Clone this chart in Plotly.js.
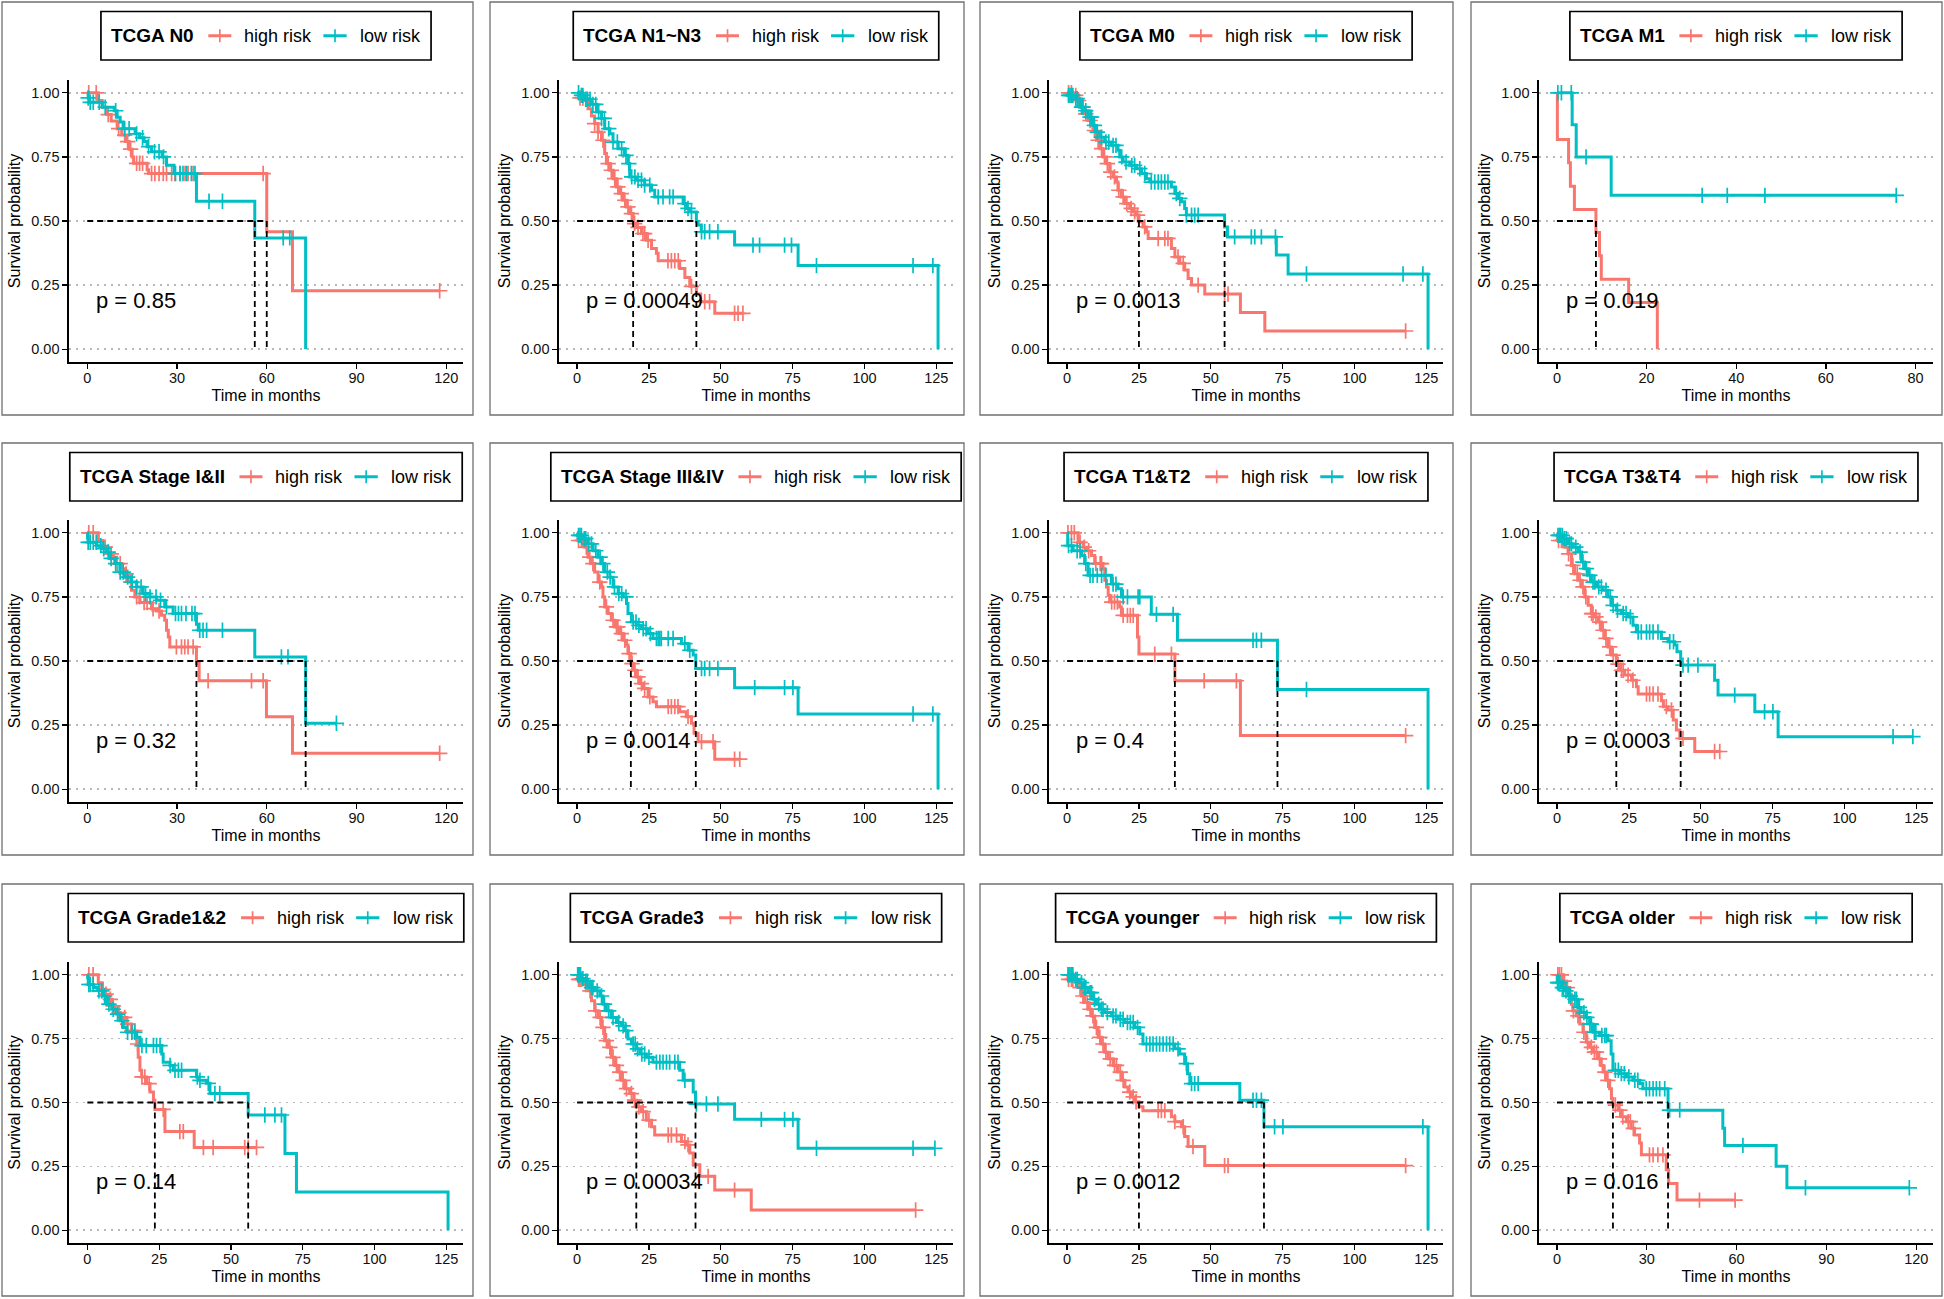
<!DOCTYPE html>
<html><head><meta charset="utf-8">
<script src="https://cdn.plot.ly/plotly-3.0.1.min.js"></script>
<style>html,body{margin:0;padding:0;background:#fff;}#chart{width:1944px;height:1299px;}</style>
</head><body><div id="chart"></div>
<script>
// ---------------- data ----------------
const titles = ["TCGA N0","TCGA N1~N3","TCGA M0","TCGA M1","TCGA Stage I&II","TCGA Stage III&IV","TCGA T1&T2","TCGA T3&T4","TCGA Grade1&2","TCGA Grade3","TCGA younger","TCGA older"];
const pvalues = ["p = 0.85","p = 0.00049","p = 0.0013","p = 0.019","p = 0.32","p = 0.0014","p = 0.4","p = 0.0003","p = 0.14","p = 0.00034","p = 0.0012","p = 0.016"];
const groupNames = ["high risk","low risk"];
const ticks120 = [0,30,60,90,120];
const ticks125 = [0,25,50,75,100,125];
const ticks80 = [0,20,40,60,80];
const yTicks = [0,0.25,0.5,0.75,1];

// N0
const n0_hi_t = [0,3.7,5,6.5,8,10,11.5,13,14,15,15.5,20,20.5,60,68.6];
const n0_hi_s = [1,0.97,0.944,0.915,0.89,0.86,0.835,0.81,0.78,0.75,0.725,0.70,0.685,0.458,0.228];
const n0_hi_c = [0.5,3,7,10.5,12.5,13.5,14.5,16.5,17.5,18.5,21.5,22.6,24,25.4,26.5,28.2,29.3,31,32.7,33.7,35.4,58.8,117.8];
const n0_lo_t = [0,0.3,0.8,5,9,10,11,12,16,17.5,19,20,21.5,25,26.5,29,36.5,56,73];
const n0_lo_s = [1,0.98,0.963,0.944,0.93,0.905,0.886,0.86,0.84,0.825,0.81,0.79,0.77,0.75,0.717,0.685,0.577,0.434,0];
const n0_lo_c = [0.3,1,2,4,6,9.5,12.5,14,16.5,18.5,20.5,22.5,24,25.5,29.5,31,32,33.2,34.8,36,40.7,45.2,65.5,67.7];
// N1~N3
const n1_hi_t = [0,0.5,2.7,3.8,5,6.1,7.3,8.5,9.6,10.2,11.4,12.5,13.7,14.8,16,17.2,18.3,19.5,20.6,22.4,24.1,25.9,27.6,28.2,35.7,37.5,39.2,41.5,43,47.9];
const n1_hi_s = [1,0.98,0.97,0.938,0.91,0.88,0.847,0.815,0.763,0.724,0.698,0.665,0.633,0.607,0.581,0.555,0.529,0.49,0.475,0.451,0.425,0.393,0.374,0.345,0.315,0.28,0.245,0.215,0.185,0.14];
const n1_hi_c = [1,2,6.1,7.3,9,10.8,11.9,13.1,14.2,15.4,16.6,17.7,18.9,20,21.2,22.9,23.5,24.7,31.6,32.8,34,35.2,39.8,44.4,46.1,54.8,56,57.7];
const n1_lo_t = [0,1,2.5,4.9,6.8,8.5,9.6,11.4,12.5,14.3,16.5,17.7,18.3,20.6,23.5,25.9,27,36.9,38.1,39.2,41.5,42.1,43.2,54.8,76.9,125.6];
const n1_lo_s = [1,0.99,0.975,0.955,0.925,0.9,0.86,0.84,0.808,0.782,0.756,0.724,0.672,0.659,0.64,0.62,0.594,0.568,0.549,0.535,0.498,0.484,0.458,0.406,0.326,0];
const n1_lo_c = [0.5,1.5,2,3,3.5,4.5,5.5,6.5,7.5,8.5,9.5,11,12.5,14,15.5,17,18,19,20.1,21.2,22.4,23.5,25.3,28.2,29.9,32.2,33.4,37.5,38.6,39.8,43.3,44.4,46.1,49,61.2,63.5,72.2,74.6,83.3,116.9,123.8];
// M0
const m0_hi_t = [0,2.1,3.8,5,6.1,7.3,9,10.2,11.4,12.5,13.7,14.8,16,17.2,17.7,18.9,20.1,21.8,23,24.1,25,26.4,27.6,28.2,36.3,37.5,39.2,40.9,42.1,43.3,47.9,60.3,68.8];
const m0_hi_s = [1,0.99,0.97,0.944,0.918,0.892,0.853,0.815,0.782,0.75,0.724,0.691,0.672,0.652,0.62,0.594,0.568,0.549,0.536,0.523,0.497,0.477,0.458,0.432,0.393,0.36,0.335,0.309,0.276,0.25,0.215,0.143,0.071];
const m0_hi_c = [0.5,1.5,3,4,5.5,6.5,8,9.5,10.8,12,13,14,15.2,16.5,18,19.5,20.8,22.3,23.5,24.5,27,31.7,34,35.1,38.6,40.4,45.6,54.8,56,117.8];
const m0_lo_t = [0,0.3,2.7,4.4,6.1,7.3,9,10.2,11.4,13.1,15.4,17.7,18.3,19.5,21.8,24.1,25.9,27.6,28.8,36.3,37.5,38.6,39.8,40.9,41.5,54.8,55.8,72.8,76.9,125.6];
const m0_lo_s = [1,0.99,0.977,0.944,0.93,0.905,0.873,0.847,0.827,0.808,0.795,0.776,0.75,0.73,0.717,0.704,0.685,0.665,0.652,0.633,0.607,0.588,0.575,0.549,0.523,0.477,0.438,0.367,0.293,0];
const m0_lo_c = [0.5,1,1.5,2,3,3.5,5,5.5,6.5,8,8.5,9.5,10.5,12,13.5,14.5,16,17,19,20.5,22.5,23.5,25.3,27,29.3,30.5,31.7,32.8,34,35.1,38,39.2,41.5,43.3,44.4,45.6,58.3,64.1,65.3,67.6,72.5,83.3,116.9,123.8];
// M1
const m1_hi_t = [0,0.1,2.6,3,3.9,8.7,9.5,9.9,16,22.4];
const m1_hi_s = [1,0.818,0.727,0.636,0.545,0.455,0.364,0.273,0.182,0];
const m1_hi_c = [];
const m1_lo_t = [0,3.4,4.3,12.1];
const m1_lo_s = [1,0.875,0.75,0.6];
const m1_lo_c = [0.2,1,3.2,6.5,32.4,38,46.4,75.7];
// Stage I&II
const s12_hi_t = [0,3.7,5.3,7,8.7,9.8,11.5,12.6,13.7,14.8,15.9,17.6,21.5,23.2,24.8,25.9,26.5,27.1,27.6,36.5,37.4,59.9,68.6];
const s12_hi_s = [1,0.97,0.944,0.918,0.905,0.88,0.86,0.84,0.808,0.776,0.75,0.728,0.704,0.695,0.678,0.659,0.62,0.594,0.555,0.49,0.423,0.283,0.14];
const s12_hi_c = [0.5,2,6,8,10,11,13,14.5,16.5,17.5,19,20,22,24,29.8,31.5,32.6,33.7,35.4,40.4,54.9,58.8,117.8];
const s12_lo_t = [0,0.1,0.3,3.1,4.8,6.5,7.6,9.2,10.9,12.6,14.8,16.5,18.7,20.9,23.2,25.9,28.7,36.5,37.1,56,73];
const s12_lo_s = [1,0.98,0.963,0.95,0.938,0.925,0.9,0.88,0.847,0.827,0.808,0.789,0.763,0.75,0.737,0.711,0.685,0.643,0.62,0.516,0.257];
const s12_lo_c = [0.3,1,2,3,4.5,5.5,7,8,9.5,11,12,13.5,15,16.5,18,19.5,21,23,24.5,26.5,29.5,30.5,31.5,33,35,36,37.6,38.7,39.9,45.2,64.9,67.1,83.3];
// Stage III&IV
const s34_hi_t = [0,0.3,2.7,3.8,5,6.1,7.3,8.5,9,9.6,10.8,11.9,13.1,14.8,16,17.2,17.7,18.7,19.5,20.6,21.8,23,24.7,26.4,27.6,35.7,38,39.8,40.7,42.1,47.9];
const s34_hi_s = [1,0.97,0.944,0.905,0.88,0.847,0.808,0.789,0.75,0.711,0.685,0.659,0.633,0.607,0.581,0.562,0.529,0.49,0.464,0.438,0.412,0.393,0.36,0.341,0.322,0.302,0.283,0.257,0.218,0.185,0.117];
const s34_hi_c = [0.5,1.5,2,3.2,4.4,5.5,7.9,10.2,12.5,13.7,14.2,15.4,16.6,18.1,19.1,20.1,21.2,22.4,23.5,25.3,31.7,32.8,34,35.1,38.6,43.3,47.3,54.8,56.6];
const s34_lo_t = [0,0.2,2.1,3.8,5.6,7.3,8.5,9.6,11.4,12.5,14.3,16,17.2,17.7,18.9,20.6,22.4,24.7,26.4,36.3,38.6,40.4,41.3,54.8,76.9,125.6];
const s34_lo_s = [1,0.99,0.977,0.957,0.93,0.905,0.88,0.847,0.827,0.789,0.763,0.75,0.724,0.685,0.652,0.639,0.626,0.607,0.588,0.568,0.542,0.523,0.471,0.396,0.293,0];
const s34_lo_c = [0.5,1,1.5,2.5,3,4,5,6.5,8,9,10.5,11.5,13,14.5,15.5,17,19.5,20.5,21.5,23,24,25.5,27.6,28.2,28.8,29.3,31.7,33.4,37.5,39.2,43.3,44.4,46.1,49,61.8,72.2,75.1,116.9,123.8];
// T1&T2
const t12_hi_t = [0,3.8,5.6,6.7,8.5,9.6,12.5,13.1,13.7,14.3,14.8,18.3,18.9,24.5,25,37.5,60.3];
const t12_hi_s = [1,0.963,0.944,0.93,0.912,0.88,0.86,0.815,0.789,0.756,0.73,0.711,0.678,0.594,0.527,0.423,0.209];
const t12_hi_c = [0.3,1.5,2.5,4.5,6,7.5,10,11.5,12,15.5,16.5,17.5,19.5,21,22,23,30.5,36.3,47.7,58.9,117.8];
const t12_lo_t = [0,0.2,2.1,5,6.1,7.3,15.4,17.7,18.9,29.3,38.4,73.2,125.6];
const t12_lo_s = [1,0.95,0.93,0.912,0.88,0.834,0.8,0.782,0.75,0.682,0.581,0.389,0];
const t12_lo_c = [0.5,1.5,3.5,4.5,6.5,8,9,10.5,12,13.5,16,17,19.5,21,24.7,25.3,31.1,36.9,64.7,65.9,67.6,83.3];
// T3&T4
const t34_hi_t = [0,0.2,2.7,3.8,5,6.1,7.3,8.5,9.6,10.8,11.9,13.1,14.3,15.4,16.6,17.7,18.9,20.6,21.8,23.5,25.9,27.6,28.2,36.3,37,38.6,40.4,41.5,42.7,47.9];
const t34_hi_s = [1,0.97,0.944,0.918,0.873,0.84,0.815,0.789,0.75,0.717,0.685,0.672,0.652,0.62,0.588,0.555,0.523,0.488,0.464,0.445,0.425,0.4,0.371,0.345,0.322,0.309,0.27,0.231,0.198,0.147];
const t34_hi_c = [0.5,1.5,2,4,5.5,7,8,9,10,12,12.5,13.5,14.8,16,17,18.3,19.5,21.2,22.4,23,24.7,26.4,31.1,32.2,33.4,35.1,38,39.8,43.8,54.8,56.6];
const t34_lo_t = [0,0.2,2.1,3.8,5.6,7.3,8.5,9.6,10.8,11.9,13.7,16,17.7,18.9,20.6,22.4,24.7,26.4,27.6,36.3,38.6,40.9,41.7,43,54.8,56,68.8,76.9];
const t34_lo_s = [1,0.99,0.977,0.957,0.944,0.925,0.886,0.86,0.834,0.808,0.789,0.776,0.75,0.717,0.698,0.685,0.672,0.639,0.613,0.588,0.575,0.562,0.536,0.484,0.425,0.367,0.302,0.205];
const t34_lo_c = [0.3,0.8,1.2,1.8,2.5,3.2,4.4,5,6.5,8,9,10.2,11.4,12.5,13.1,14.5,15.4,17,18.5,19.5,21,23,24,25.5,28.2,29.3,31.1,32.2,33.4,35.1,39.2,40.5,43.8,45.6,49,61.8,72.2,75.1,116.9,123.8];
// Grade1&2
const g12_hi_t = [0,3.8,5,6.1,7.3,8.5,9.6,11.4,13.7,15.4,16.6,17.2,17.7,18.3,18.9,20.6,21.8,23,23.5,27,37.2];
const g12_hi_s = [1,0.969,0.943,0.924,0.904,0.878,0.852,0.833,0.807,0.781,0.755,0.729,0.677,0.626,0.6,0.574,0.541,0.509,0.473,0.386,0.324];
const g12_hi_c = [0.5,2,5.5,6.5,8,9,11,13,14,15.5,16.5,17.5,19,20,21.5,26.4,32.2,33.4,40.4,43.8,54.8,56,58.9];
const g12_lo_t = [0,0.1,0.3,2.1,3.8,5.6,6.7,8.5,10.2,11.4,12.5,13.7,17.2,18.3,25.9,26.4,28.8,29.9,38,38.6,41.5,42.7,56,68.8,72.8,125.6];
const g12_lo_s = [1,0.988,0.962,0.95,0.937,0.917,0.885,0.865,0.846,0.82,0.794,0.775,0.755,0.723,0.69,0.658,0.645,0.626,0.6,0.587,0.575,0.535,0.451,0.3,0.15,0];
const g12_lo_c = [0.5,1,2,4,5,6,7.5,9,10.5,12,14,15.5,16.5,19,20.5,23,24.1,25.3,28.8,30.5,31.7,32.8,38.3,39.2,42.1,44.4,46.1,61.8,65.3,67.6];
// Grade3
const g3_hi_t = [0,0.2,2.1,3.8,5,6.1,7.3,8.5,9.6,10.8,11.9,13.1,14.3,15.4,16.6,18.3,19.7,20.6,22.4,24.1,25.9,27,36.3,38,39.2,40.4,42.7,47.9,60.6];
const g3_hi_s = [1,0.982,0.962,0.937,0.898,0.859,0.833,0.794,0.742,0.716,0.677,0.645,0.619,0.587,0.554,0.535,0.509,0.483,0.464,0.431,0.405,0.373,0.347,0.334,0.302,0.256,0.211,0.157,0.079];
const g3_hi_c = [0.5,1,1.5,3,4.5,6.5,8,9,10.2,11.4,12.5,13.7,14.8,16,17.2,18.9,20,21.5,23,25,31.7,32.8,34.6,37.5,38.6,45.6,54.8,117.8];
const g3_lo_t = [0,1.5,2.7,4.4,6.1,7.9,9,10.2,11.9,13.7,15.4,16.6,17.7,18.9,20.6,21.8,24.1,26.4,35.7,36.9,40.4,41.2,54.8,76.9];
const g3_lo_s = [1,0.985,0.975,0.95,0.937,0.917,0.885,0.859,0.833,0.813,0.8,0.781,0.749,0.729,0.71,0.69,0.677,0.658,0.626,0.587,0.541,0.494,0.434,0.321];
const g3_lo_c = [0.2,0.5,0.8,1.2,2,3,3.5,5,5.5,7,8.5,9.5,11,12.5,14.5,16,17,19.5,20.2,21,22.5,23.5,25,27.6,28.8,29.9,31.1,32.2,34,35.1,37.5,41.5,45,49,64.1,72.2,75.1,83.3,116.9,124.5];
// younger
const yg_hi_t = [0,0.3,2.7,3.8,5,6.1,7.3,8.5,9.6,10.8,11.9,13.1,14.3,16,17.7,18.9,20.1,21.2,22.4,23.5,25,26.4,36.3,37.5,39.8,40.9,42.1,47.9];
const yg_hi_s = [1,0.982,0.975,0.95,0.917,0.891,0.865,0.839,0.794,0.755,0.729,0.697,0.671,0.645,0.619,0.587,0.561,0.541,0.522,0.503,0.483,0.468,0.444,0.425,0.405,0.367,0.328,0.253];
const yg_hi_c = [0.5,1.5,2,4.5,5.5,7,8,9,10.2,11.4,12.5,13.5,15,16.5,17.2,18.5,19.5,21.8,23,24,31.7,32.8,34,37.5,40.4,43.8,54.8,56,117.8];
const yg_lo_t = [0,2.7,4.4,5.6,7.3,9,10.2,11.4,13.1,15.4,17.7,20.1,23.5,25.3,26.4,37.5,39.2,40.9,41.9,42.7,60.1,68.5,125.6];
const yg_lo_s = [1,0.982,0.969,0.95,0.93,0.904,0.885,0.865,0.852,0.839,0.826,0.813,0.794,0.768,0.729,0.71,0.69,0.652,0.613,0.574,0.509,0.405,0];
const yg_lo_c = [0.3,0.6,1,1.5,2,3,3.5,5,6,6.5,8,8.5,9.5,11,12,12.5,14,16,17,18.5,19.5,21,22,23,24.5,27.6,28.8,29.9,31.1,32.2,33.4,34.6,35.7,36.9,38.6,41.5,43.3,44.4,45.6,64.7,65.9,67.6,72.2,75.1,123.8];
// older
const od_hi_t = [0,2,3.1,4.2,4.8,5.3,6.5,7.6,8.7,9.8,10.9,12,13.7,14.8,15.4,16.5,17.6,18.2,18.7,20.4,21.5,23.2,24.8,25.9,27.6,28.2,36.5,37.3,40.1];
const od_hi_s = [1,0.975,0.95,0.924,0.885,0.859,0.839,0.807,0.775,0.736,0.716,0.697,0.671,0.645,0.619,0.587,0.554,0.516,0.49,0.47,0.444,0.425,0.399,0.373,0.341,0.295,0.237,0.183,0.118];
const od_hi_c = [0.3,0.8,1.5,2.5,3.5,5.5,7,9,10.2,11.5,12.5,13.2,14.2,16,17,19.5,21,22,23.8,24.5,25.5,30.9,32.1,33.7,35.4,47.6,59.5];
const od_lo_t = [0,0.1,1.5,2.6,3.7,5.3,7,8.1,9.8,10.9,12,14.2,17,18.1,18.7,20.9,23.2,25.4,27.6,28.7,37.1,55.4,56,73.2,76.8];
const od_lo_s = [1,0.969,0.95,0.937,0.917,0.904,0.872,0.852,0.833,0.807,0.775,0.762,0.742,0.69,0.626,0.613,0.6,0.587,0.574,0.554,0.47,0.399,0.332,0.25,0.166];
const od_lo_c = [0.2,0.5,1,1.8,2.2,3,4,4.5,6,6.5,7.5,9,10,11,11.5,12.5,13,15,16,16.5,19.5,20.5,21.5,22.5,24,26,27,29.8,30.9,32.1,33.2,34.3,36,37.6,41,62.1,83,117.7];

// ---------------- panel assembly ----------------
const panels = [
  {hi:[n0_hi_t,n0_hi_s,n0_hi_c], lo:[n0_lo_t,n0_lo_s,n0_lo_c], ticks:ticks120, xr:[-6.1,125.6]},
  {hi:[n1_hi_t,n1_hi_s,n1_hi_c], lo:[n1_lo_t,n1_lo_s,n1_lo_c], ticks:ticks125, xr:[-6.3,130.8]},
  {hi:[m0_hi_t,m0_hi_s,m0_hi_c], lo:[m0_lo_t,m0_lo_s,m0_lo_c], ticks:ticks125, xr:[-6.3,130.8]},
  {hi:[m1_hi_t,m1_hi_s,m1_hi_c], lo:[m1_lo_t,m1_lo_s,m1_lo_c], ticks:ticks80,  xr:[-4,83.9]},
  {hi:[s12_hi_t,s12_hi_s,s12_hi_c], lo:[s12_lo_t,s12_lo_s,s12_lo_c], ticks:ticks120, xr:[-6.1,125.6]},
  {hi:[s34_hi_t,s34_hi_s,s34_hi_c], lo:[s34_lo_t,s34_lo_s,s34_lo_c], ticks:ticks125, xr:[-6.3,130.8]},
  {hi:[t12_hi_t,t12_hi_s,t12_hi_c], lo:[t12_lo_t,t12_lo_s,t12_lo_c], ticks:ticks125, xr:[-6.3,130.8]},
  {hi:[t34_hi_t,t34_hi_s,t34_hi_c], lo:[t34_lo_t,t34_lo_s,t34_lo_c], ticks:ticks125, xr:[-6.3,130.8]},
  {hi:[g12_hi_t,g12_hi_s,g12_hi_c], lo:[g12_lo_t,g12_lo_s,g12_lo_c], ticks:ticks125, xr:[-6.4,130.8]},
  {hi:[g3_hi_t,g3_hi_s,g3_hi_c], lo:[g3_lo_t,g3_lo_s,g3_lo_c], ticks:ticks125, xr:[-6.3,130.8]},
  {hi:[yg_hi_t,yg_hi_s,yg_hi_c], lo:[yg_lo_t,yg_lo_s,yg_lo_c], ticks:ticks125, xr:[-6.3,130.8]},
  {hi:[od_hi_t,od_hi_s,od_hi_c], lo:[od_lo_t,od_lo_s,od_lo_c], ticks:ticks120, xr:[-6.0,125.6]}
];

const W = 1944, H = 1299;
const RED = '#F8766D', CYAN = '#00BFC4';
const FONT = '"Liberation Sans", Arial, Helvetica, sans-serif';
const colX = [[69,463],[559,953],[1049,1443],[1539,1933]];
const rowY = [[80,362],[520,802],[962,1243]];
const panelX = [[2,473],[490,964],[980,1453],[1471,1942]];
const panelY = [[2,415],[443,855],[884,1296]];

function survAt(t, ts, ss){ let v = ss[0]; for (let i=0;i<ts.length;i++){ if (ts[i] <= t) v = ss[i]; else break; } return v; }
function medianOf(ts, ss){ for (let i=0;i<ts.length;i++) if (ss[i] <= 0.5) return ts[i]; return null; }
const px = v => v / W, py = v => 1 - v / H;
const esc = s => s.replace(/&/g,'&amp;');

const cv = document.createElement('canvas').getContext('2d');
function textW(s, f){ cv.font = f; return cv.measureText(s).width; }

const traces = [];
const shapes = [];
const annotations = [];
const layout = {
  width: W, height: H, margin:{l:0,r:0,t:0,b:0}, paper_bgcolor:'#fff', plot_bgcolor:'#fff',
  showlegend:false, font:{family:FONT, color:'#000'}
};

panels.forEach((P, i) => {
  const r = Math.floor(i/4), c = i % 4, k = i + 1;
  const sfx = k > 1 ? String(k) : '';
  const xa = 'x' + sfx, ya = 'y' + sfx;
  layout['xaxis' + sfx] = {
    domain:[px(colX[c][0]), px(colX[c][1])], anchor: ya, range: P.xr,
    tickmode:'array', tickvals: P.ticks, showgrid:false, zeroline:false,
    showline:true, linecolor:'#000', linewidth:1.6, ticks:'outside', ticklen:5, tickwidth:1.3, tickcolor:'#000',
    ticklabelstandoff:-3,
    tickfont:{size:14.5, color:'#111', family:FONT},
    title:{text:'Time in months', font:{size:16, color:'#000', family:FONT}, standoff:4.5},
    fixedrange:true
  };
  layout['yaxis' + sfx] = {
    domain:[py(rowY[r][1]), py(rowY[r][0])], anchor: xa, range:[-0.05,1.05],
    tickmode:'array', tickvals: yTicks, tickformat:'.2f',
    showgrid:true, gridcolor:'#b8b8b8', griddash:'2px,5px', gridwidth:1.5, zeroline:false,
    showline:true, linecolor:'#000', linewidth:1.6, ticks:'outside', ticklen:5, tickwidth:1.3, tickcolor:'#000',
    tickfont:{size:14.5, color:'#111', family:FONT},
    title:{text:'Survival probability', font:{size:16, color:'#000', family:FONT}, standoff:6},
    fixedrange:true
  };

  const groups = [[P.hi, RED, groupNames[0]], [P.lo, CYAN, groupNames[1]]];
  const medians = [];
  groups.forEach(([g, col, name]) => {
    const ts = g[0], ss = g[1], cs = g[2];
    const lastT = Math.max(ts[ts.length-1], cs.length ? Math.max(...cs) : 0);
    traces.push({
      type:'scatter', mode:'lines', name, xaxis:xa, yaxis:ya,
      x: ts.concat([lastT]), y: ss.concat([ss[ss.length-1]]),
      line:{color:col, width:3, shape:'hv'}, hoverinfo:'skip'
    });
    traces.push({
      type:'scatter', mode:'markers', name: name + ' censored', xaxis:xa, yaxis:ya,
      x: cs, y: cs.map(t => survAt(t, ts, ss)),
      marker:{symbol:'cross-thin-open', size:11, color:col, line:{color:col, width:1.7}}, hoverinfo:'skip'
    });
    medians.push(medianOf(ts, ss));
  });
  const med = medians.filter(m => m !== null);
  if (med.length){
    const mx = Math.max(...med);
    const dx = [0, mx], dy = [0.5, 0.5];
    med.forEach(m => { dx.push(null, m, m); dy.push(null, 0.5, 0); });
    traces.push({type:'scatter', mode:'lines', xaxis:xa, yaxis:ya, x:dx, y:dy,
      line:{color:'#000', width:1.8, dash:'6px,4px'}, hoverinfo:'skip', connectgaps:false});
  }

  // p-value
  annotations.push({xref: xa + ' domain', yref: ya, x:0.063, y:0.19, xanchor:'left', yanchor:'middle',
    text: pvalues[i], showarrow:false, font:{size:22, color:'#000', family:FONT}});

  // panel border
  shapes.push({type:'rect', xref:'paper', yref:'paper', x0:px(panelX[c][0]), x1:px(panelX[c][1]),
    y0:py(panelY[r][1]), y1:py(panelY[r][0]), line:{color:'#707070', width:1.3}, fillcolor:'rgba(0,0,0,0)'});

  // legend box (title + keys) above the plot
  const tF = 'bold 19px "Liberation Sans"', iF = '18px "Liberation Sans"';
  const Wt = textW(titles[i], tF), Wh = textW(groupNames[0], iF), Wl = textW(groupNames[1], iF);
  const boxW = 10 + Wt + 14 + 23 + 12.7 + Wh + 12.3 + 23.3 + 13.4 + Wl + 11;
  const cx = (colX[c][0] + colX[c][1]) / 2;
  const L = cx - boxW/2, R = cx + boxW/2;
  const top = panelY[r][0] + 9.5, bot = top + 48.5, cy = (top + bot) / 2;
  shapes.push({type:'rect', xref:'paper', yref:'paper', x0:px(L), x1:px(R), y0:py(bot), y1:py(top),
    line:{color:'#000', width:1.7}, fillcolor:'#fff'});
  annotations.push({xref:'paper', yref:'paper', x:px(L + 10 - 2), y:py(cy), xanchor:'left', yanchor:'middle',
    text:'<b>' + esc(titles[i]) + '</b>', showarrow:false, font:{size:19, color:'#000', family:FONT}});
  let x = L + 10 + Wt + 14;
  [[RED, groupNames[0], Wh, 23, 12.7], [CYAN, groupNames[1], Wl, 23.3, 13.4]].forEach(([col, name, w, kl, g1]) => {
    shapes.push({type:'line', xref:'paper', yref:'paper', x0:px(x), x1:px(x + kl), y0:py(cy), y1:py(cy), line:{color:col, width:3}});
    shapes.push({type:'line', xref:'paper', yref:'paper', x0:px(x + kl/2), x1:px(x + kl/2), y0:py(cy - 6.5), y1:py(cy + 6.5), line:{color:col, width:1.7}});
    x += kl + g1;
    annotations.push({xref:'paper', yref:'paper', x:px(x - 2), y:py(cy), xanchor:'left', yanchor:'middle',
      text:name, showarrow:false, font:{size:18, color:'#000', family:FONT}});
    x += w + 12.3;
  });
});

layout.shapes = shapes;
layout.annotations = annotations;
Plotly.newPlot('chart', traces, layout, {displayModeBar:false, staticPlot:true});
</script></body></html>
